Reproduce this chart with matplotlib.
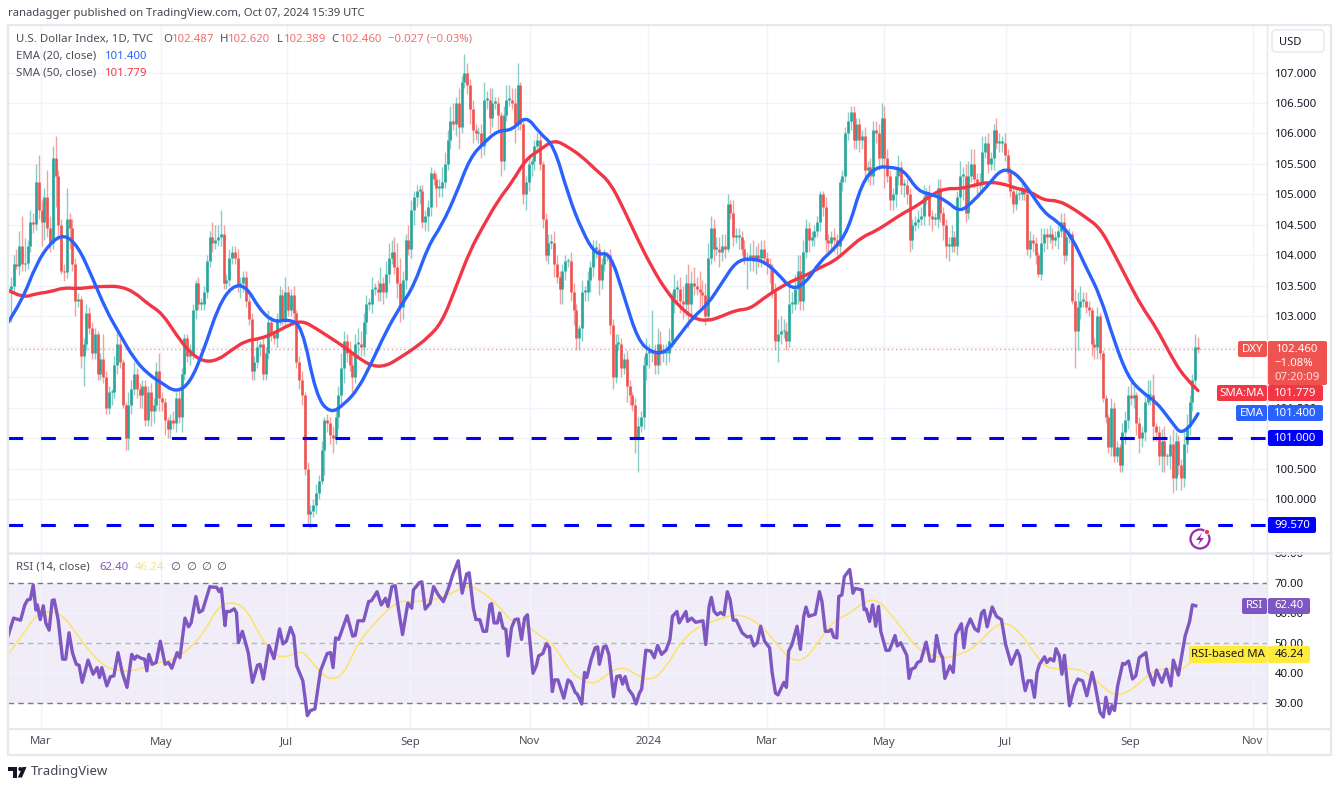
import numpy as np
import matplotlib
matplotlib.use("Agg")
import matplotlib.pyplot as plt
from matplotlib.patches import FancyBboxPatch, Polygon, Circle, Rectangle, PathPatch
from matplotlib.path import Path

plt.rcParams['font.family'] = ['Noto Sans', 'DejaVu Sans']

# daily closes, in order
closes = [
    103.45,103.50,103.85,103.82,104.15,103.85,103.88,104.15,104.55,104.52,105.20,104.75,
    104.55,104.95,104.45,104.20,105.60,105.30,104.50,103.75,103.72,104.60,104.45,103.85,103.25,103.28,102.35,
    102.55,103.05,102.80,102.40,102.70,102.05,102.30,102.00,101.50,101.75,101.75,102.20,102.55,102.25,101.55,
    101.00,101.55,101.80,102.05,101.80,101.70,101.85,101.30,101.75,101.45,101.55,102.10,101.65,
    101.60,101.30,101.15,101.30,101.25,101.65,101.35,102.05,102.65,102.35,102.40,103.10,103.55,103.20,103.20,
    103.40,103.90,104.30,104.20,104.25,104.30,104.35,103.55,103.60,103.95,104.05,103.95,103.50,103.55,103.65,
    103.25,102.95,102.10,102.25,102.50,102.55,102.05,102.40,102.90,102.70,102.65,102.95,103.35,102.95,103.40,
    103.10,103.35,103.05,102.25,101.95,101.70,100.50,99.75,
    99.80,99.90,100.10,100.30,100.80,
    101.30,101.25,101.05,101.00,101.35,101.70,102.15,102.60,102.40,102.20,
    102.00,102.55,102.55,102.50,102.90,103.20,103.20,103.45,103.45,103.40,
    103.55,103.40,103.70,103.95,104.05,103.80,103.55,103.15,103.60,104.25,
    104.10,104.75,104.95,105.05,105.05,104.55,104.65,104.80,105.35,105.25,
    105.10,105.10,105.20,105.50,105.90,106.20,106.15,106.50,106.10,106.85,
    107.00,106.80,106.40,106.05,106.00,106.00,105.80,106.55,106.55,106.25,
    106.50,106.50,106.30,105.55,106.30,106.55,106.55,106.50,106.15,106.80,
    106.15,105.00,105.20,105.50,105.55,105.80,105.90,105.50,104.60,104.00,
    104.20,104.20,103.85,103.65,103.45,103.75,103.90,103.90,103.40,103.10,
    102.65,102.80,103.40,103.40,103.60,103.80,104.10,104.10,103.60,103.85,104.00,
    104.00,102.85,102.00,102.55,102.55,102.15,102.30,101.85,101.70,101.55,
    101.00,101.20,101.35,102.20,102.40,102.40,102.40,102.20,102.55,102.40,
    102.40,102.40,102.60,103.30,103.45,103.45,103.25,103.20,103.55,103.20,
    103.55,103.50,103.45,103.40,103.35,103.00,103.95,104.45,104.10,104.10,
    104.05,104.15,104.10,104.85,104.70,104.30,104.30,104.30,104.10,103.95,
    103.95,104.00,103.90,104.00,103.95,104.10,103.95,103.85,103.80,103.40,
    102.60,102.70,102.75,102.75,102.60,103.20,103.20,103.45,103.75,103.25,
    104.05,104.45,104.25,104.30,104.40,104.55,105.00,104.80,104.25,104.20,
    104.30,104.25,104.15,105.20,105.30,106.00,106.20,106.35,105.90,106.15,
    105.90,105.95,105.40,105.45,105.30,106.05,106.00,105.60,106.25,105.60,
    105.30,104.90,105.00,105.30,105.45,105.15,105.15,105.00,
    104.25,104.50,104.55,104.60,104.65,104.95,105.00,104.65,104.60,104.60,
    105.10,104.70,104.50,104.15,104.15,104.30,104.15,104.95,105.30,105.30,
    104.70,105.30,105.50,105.25,105.15,105.20,105.70,105.85,105.50,105.60,
    106.05,105.85,105.85,105.85,105.65,105.35,105.05,104.85,105.00,105.00,
    105.10,105.00,104.10,104.25,104.20,104.00,103.70,104.20,104.35,104.30,
    104.35,104.25,104.30,104.40,104.55,104.00,104.30,104.35,103.25,102.75,
    103.15,103.25,103.25,103.15,103.10,102.55,102.50,103.00,102.40,101.65,
    101.35,100.85,101.50,100.70,100.85,100.55,101.10,101.30,101.70,101.65,
    101.70,101.25,101.00,101.10,101.60,101.70,101.70,101.20,101.10,100.70,
    100.95,100.70,100.70,100.90,100.35,100.95,100.55,100.35,100.90,101.20,
    101.60,101.95,102.50,102.46,
]
first_open = 103.40

# wick lengths above and below each body
wick_up = [
    .10,.15,.15,.25,.25,.50,.40,.10,.20,.15,.30,.45,
    .15,.15,.45,.20,.20,.35,.10,.10,.10,.50,.10,.15,.10,.10,.05,.10,.15,.10,.10,.10,.05,.10,.40,.10,.10,.05,.15,.20,.10,.05,.05,.20,.15,.20,.10,.10,.10,.10,.10,.15,.10,.15,.30,
    .10,.05,.05,.10,.15,.10,.15,.10,.05,.05,.15,.10,.05,.10,.10,.10,.10,.10,.25,.25,.20,.40,.15,.10,.15,.10,.10,.15,.10,.10,.10,.10,.10,.10,.15,.05,.10,.10,.20,.10,.05,.10,.15,.10,.25,
    .10,.10,.15,.05,.10,.15,.05,.10,
    .10,.10,.15,.10,.15,
    .05,.10,.10,.15,.15,.15,.25,.15,.10,.20,
    .20,.15,.25,.20,.15,.15,.10,.20,.10,.15,
    .25,.10,.20,.25,.20,.25,.40,.40,.15,.10,
    .25,.15,.10,.10,.10,.10,.10,.10,.10,.05,
    .10,.15,.25,.20,.15,.25,.30,.10,.25,.10,
    .30,.15,.10,.15,.10,.10,.15,.30,.15,.20,
    .25,.10,.10,.05,.15,.25,.25,.20,.25,.35,
    .05,.10,.10,.10,.05,.10,.10,.10,.05,.10,
    .15,.15,.20,.15,.10,.10,.10,.05,.15,.15,
    .10,.05,.20,.10,.15,.10,.15,.15,.10,.10,.10,
    .05,.10,.10,.15,.15,.10,.10,.15,.10,.05,
    .10,.15,.10,.15,.25,.15,.70,.15,.25,.20,
    .15,.15,.20,.10,.25,.15,.20,.25,.15,.30,
    .20,.25,.15,.30,.20,.20,.25,.20,.15,.20,
    .20,.20,.20,.15,.05,.20,.15,.15,.10,.15,
    .10,.20,.25,.15,.20,.15,.15,.10,.10,.05,
    .15,.25,.25,.20,.15,.30,.20,.25,.25,.25,
    .20,.15,.10,.10,.10,.10,.05,.05,.15,.10,
    .10,.15,.10,.05,.10,.10,.15,.10,.10,.10,
    .10,.10,.15,.10,.15,.15,.15,.15,.25,.20,
    .15,.10,.10,.15,.20,.10,.10,.10,
    .10,.10,.10,.15,.15,.20,.10,.15,.10,.10,
    .15,.15,.10,.10,.15,.20,.10,.10,.25,.15,
    .20,.25,.25,.25,.10,.15,.25,.10,.15,.10,
    .10,.20,.15,.10,.15,.10,.10,.05,.10,.10,
    .15,.10,.05,.15,.10,.10,.05,.25,.10,.10,
    .15,.10,.10,.10,.15,.15,.05,.10,.05,.20,
    .25,.25,.15,.15,.10,.05,.10,.15,.05,.05,
    .05,.05,.15,.10,.10,.05,.15,.15,.15,.25,
    .15,.05,.10,.10,.15,.25,.25,.35,.05,.10,
    .20,.25,.05,.15,.25,.15,.10,.10,.25,.20,
    .10,.10,.20,.16,
]
wick_dn = [
    .45,.55,.10,.05,.15,.10,.10,.10,.10,.15,.10,.15,
    .40,.30,.15,.15,.10,.50,.25,.05,.15,.10,.35,.10,.25,.10,.20,.50,.10,.10,.10,.10,.10,.10,.10,.10,.10,.20,.10,.15,.10,.05,.20,.20,.15,.10,.15,.20,.20,.10,.10,.25,.20,.10,.20,
    .15,.25,.15,.15,.10,.15,.10,.25,.10,.10,.15,.10,.15,.10,.10,.10,.10,.10,.15,.10,.10,.15,.10,.10,.10,.10,.10,.10,.20,.15,.10,.10,.15,.15,.10,.15,.10,.10,.10,.10,.10,.15,.10,.10,.10,
    .10,.10,.15,.10,.15,.15,.10,.18,
    .23,.10,.15,.10,.05,
    .40,.15,.15,.25,.10,.20,.15,.25,.15,.10,
    .25,.10,.20,.15,.15,.20,.10,.15,.10,.15,
    .15,.20,.10,.15,.10,.10,.25,.25,.20,.15,
    .10,.15,.25,.15,.20,.10,.15,.25,.15,.10,
    .30,.15,.15,.10,.10,.15,.10,.20,.35,.10,
    .10,.15,.25,.20,.10,.15,.20,.15,.15,.25,
    .15,.10,.25,.25,.15,.10,.10,.10,.30,.10,
    .10,.15,.25,.15,.20,.15,.10,.10,.15,.10,
    .15,.10,.20,.10,.25,.25,.15,.10,.15,.25,
    .20,.20,.20,.15,.15,.20,.15,.15,.25,.15,.10,
    .10,.15,.20,.10,.10,.15,.10,.25,.15,.10,
    .25,.55,.10,.20,.25,.25,.15,.15,.15,.20,
    .15,.20,.15,.10,.25,.20,.20,.25,.20,.40,
    .25,.15,.10,.25,.25,.15,.05,.10,.20,.10,
    .25,.15,.15,.05,.10,.15,.10,.20,.10,.10,
    .50,.20,.15,.20,.15,.15,.10,.15,.25,.10,
    .15,.35,.15,.10,.15,.10,.15,.10,.25,.15,
    .15,.10,.20,.10,.15,.10,.15,.15,.20,.15,
    .10,.20,.15,.15,.15,.10,.10,.15,.15,.15,
    .20,.15,.20,.20,.15,.15,.15,.20,.15,.50,
    .10,.15,.15,.20,.15,.15,.20,.15,
    .20,.15,.10,.10,.10,.15,.10,.15,.20,.10,
    .15,.15,.25,.20,.25,.10,.10,.15,.15,.40,
    .15,.10,.10,.15,.20,.15,.10,.10,.15,.10,
    .20,.10,.15,.15,.10,.15,.10,.15,.10,.10,
    .10,.10,.10,.15,.15,.15,.05,.10,.15,.20,
    .10,.15,.10,.20,.10,.15,.10,.10,.05,.60,
    .30,.20,.10,.10,.10,.20,.20,.20,.10,.05,
    .10,.10,.15,.10,.10,.10,.10,.20,.15,.10,
    .15,.20,.25,.15,.15,.05,.15,.25,.15,.15,
    .25,.25,.15,.20,.25,.20,.15,.20,.15,.15,
    .15,.15,.15,.07,
]

# moving averages, read every fifth bar
ema20 = [
    102.90,103.25,103.85,104.20,104.35,104.15,103.65,103.10,102.70,102.30,102.05,101.90,101.75,101.90,102.45,103.15,
    103.50,103.50,103.10,102.90,102.95,102.85,101.70,101.40,101.55,101.80,102.25,102.75,103.15,103.50,104.15,104.50,
    105.00,105.60,105.85,106.05,106.05,106.30,106.00,105.80,105.00,104.40,104.00,104.05,103.33,102.60,102.40,102.40,
    102.70,103.00,103.20,103.55,103.90,103.95,103.90,103.70,103.43,103.55,103.90,104.10,104.40,105.20,105.45,105.45,
    105.40,105.05,105.00,104.90,104.70,104.90,105.15,105.43,105.35,105.05,104.70,104.55,104.30,103.80,103.35,102.60,
    102.00,101.75,101.60,101.30,101.00,101.40,
]
sma50 = [
    103.43,103.30,103.37,103.40,103.47,103.45,103.48,103.49,103.49,103.40,103.20,103.05,102.70,102.40,102.25,102.28,
    102.45,102.60,102.63,102.72,102.85,102.93,102.80,102.65,102.50,102.32,102.18,102.18,102.32,102.47,102.65,102.90,
    103.48,104.08,104.50,104.90,105.20,105.58,105.73,105.90,105.78,105.62,105.40,105.20,104.75,104.25,103.80,103.42,
    103.15,102.96,102.92,103.00,103.10,103.12,103.30,103.45,103.58,103.67,103.80,103.90,104.10,104.30,104.40,104.55,
    104.70,104.82,105.00,105.10,105.09,105.15,105.20,105.18,105.10,105.05,104.90,104.90,104.78,104.62,104.45,104.03,
    103.58,103.15,102.82,102.38,102.00,101.78,
]

# RSI turning points: bar number and value
rsi_bars = [
    0,2,4.5,6,7,8,9,10,10.5,11.5,12.6,13.5,14.7,15.8,16.5,17.9,19.5,20.6,21.8,23,24.4,25.4,26.5,28.6,30.4,31.8,32.7,33.5,35.3,36.6,
    37.8,39.3,40.8,42.5,44.2,45.2,46,47.6,48.8,49.6,50.3,51.5,52.9,54.4,56.1,57.3,58.5,60.4,61.4,63.2,64.5,65.4,67.1,68.3,69.5,72.1,73.3,74.5,75.4,76.2,
    77.5,78,79.2,80.8,81.6,82.3,83.7,85.8,87.3,89.1,90,91.2,93.2,95,97,98.2,99.4,100.9,102.1,103.1,105.3,106.9,108,109.6,111.6,114,115.2,116.1,117,118.1,
    121.1,123.1,124,125,127,128.8,129.8,131.8,133.3,134.8,135.7,137.1,138.3,139.5,140.9,142.8,144.2,144.8,146.9,147.8,149,150.8,152,153.7,155.5,157.3,
    159,160.8,162.2,163.8,164.7,166.2,167.1,168.5,169.7,170.9,172.1,172.7,173.6,174.8,175.6,176.8,177.8,178.6,179.8,181,182.2,183.4,184.5,185.5,187.5,188.7,189.5,191,192.3,193.4,
    194.4,195.2,196.4,198.5,200,201.1,202.6,203.3,204.9,205.9,206.7,208.3,209.7,210.6,211.2,212.7,213.6,214.6,216.3,217.4,218.6,219.5,220.4,221.6,223.1,224.3,225.5,226.3,227.8,229.6,
    230.8,232,233.4,235,236.4,237.3,238.9,239.7,242.1,242.7,244.1,245.6,248.2,249.2,250.4,251.2,252.2,253.3,254.5,255.7,256.9,257.9,259,260.1,262.2,264,265.2,266.4,267.6,268.8,
    270.2,272,272.9,274.1,275,277.1,278,278.8,280,281.8,283,284.2,285,286,288.3,289.8,290.7,291.9,293.1,294,294.9,296,296.7,297.8,298.7,300.6,301.8,302.6,305,305.8,
    306.5,307.7,308.8,309.9,310.9,311.7,313.6,314.8,316.8,317.6,318.8,321,321.8,322.7,323.9,324.8,326,327.9,329.3,330.7,331.6,332.8,333.8,334.6,336.4,337.6,338.5,340.5,341.4,342.3,
    343.7,345.3,346.5,347.7,348.6,349.7,351.5,353,354.8,356.3,358.3,360.4,361.3,362.5,363.3,364.3,365.5,366.6,367.5,368.4,370.2,371,372.2,373.5,374.3,375.5,376.4,377.3,379.1,380.9,
    382.1,383.8,385.3,387.2,388.3,390,391.2,392.1,393.3,394.3,395.2,396.3,398.1,398.9,400.2,401.6,402.8,404,406.4,407.3,409.1,410.2,412.1,413.7,415.3,416.2,418,420.4,422,423,424.2,
]
rsi_vals = [
    52.3,58.3,57.6,62.7,64.4,64.6,69.3,61,62.7,57.8,62.4,56.7,54.3,64.2,64.4,57.8,44.6,44.6,53.4,46.8,42.9,42.6,36.9,44.3,39.6,41.8,38.5,41.8,35.7,38.8,
    39,46.8,40.2,35.2,46.2,44.6,45.7,44.9,44.6,40.7,46.2,42.9,43.5,50.6,42.9,43.5,41.6,46.8,45.1,58.3,55.4,56.7,65.5,60.2,60.9,68.8,68.6,68.6,67.1,68.2,
    55.8,60.5,60.5,61.4,60,50.1,53.9,46.8,36.9,42.6,42.9,38,49.2,44.8,54.7,49.7,50.6,55.2,52.3,42.4,37.4,25.8,27.5,28,40.7,46.5,46.8,41.8,51.7,51.2,
    59.1,52.3,52.5,57.4,57.4,63.8,64.1,67.1,62.7,64.9,62.2,68.8,69.1,61.1,52.8,63.3,61.6,67.7,70.1,70.4,61.3,63.3,68.8,66,63.8,68.2,
    73.2,77.4,66.6,73,73.4,61.6,57.8,57.8,53.9,53.9,62.7,63.1,56.7,56.7,60,55,54.5,45.7,55,57.8,58,51.2,58.3,59.4,39.9,42.4,45.7,46.5,49.8,48.4,
    33.8,37.7,37.7,31.6,37.7,36.9,33.5,33,29.7,40.2,38.5,44.6,48.4,48.7,42.9,48.7,49,46.2,32.1,38.8,39.1,36.3,38.8,34.6,32.7,29.7,33.3,34.6,47.6,47.3,
    45.1,49.2,46.2,47.6,51.2,58.9,60.5,56.7,60.5,57.2,58.3,56.9,57.4,49.5,62.2,65.2,60.5,59.4,60.2,59.4,67.1,64.4,57.6,57.6,53.4,52,52.3,49,50.1,55.6,
    50.6,48.4,40.2,33.3,32.7,36.9,35.2,47.3,49.5,55.6,47.9,58.9,62,58.9,59.6,67.1,63.8,53.9,53.9,54.5,52,51.7,65.5,66,72.1,74.5,66.6,68.2,67.7,61.1,
    61.3,57.2,62.7,55.6,62.2,53.9,47.5,47.6,52.5,49,50.1,45.9,38.2,41.3,41.8,43.5,44,50.3,44,44,52.5,46.8,45.1,38.2,42.4,40.2,52.8,56.4,48.4,55,
    58,54.7,53.9,60,60.9,55.4,62,58.9,57.8,49.5,42.9,47.5,45.7,38,34.1,37.4,37.4,31.9,40.2,42.9,45.4,43.5,44.8,44,48.1,45.7,39.6,45.9,29.1,35.7,
    38,37.4,32.4,40.2,35.7,26.9,25.3,31.9,26.4,29.1,27.5,35.7,43.2,42.9,44,38,39.1,45.1,46.8,40.7,36,41,36.9,41.3,35.7,44.3,39.3,52.3,57.2,62.7,62.4,
]
rsi_ma = [
    46.2,52.3,59.4,60.7,59,52.3,46.2,41.8,40.7,40.7,42.4,43.7,44.8,48.4,53.4,62.2,63.8,61.6,52.3,45.7,45.3,47.9,41.8,37.4,39.6,50.1,55.6,60.7,64.2,63.6,64.4,64.9,
    67.5,69.3,66.6,62.7,56.7,56.1,52.3,49.5,41.3,37.4,36.3,40.5,42.1,39,37.4,41.8,50,54.5,56.7,58.3,59.6,58.3,55,49,44,44.6,51.2,57.6,59.4,63.3,
    64.9,60,53.9,47.9,45.7,44.9,46.2,48.4,53.4,57.2,55,49,42.1,41.3,41.6,40.5,36.3,32.4,33.5,37.4,41.3,41.3,40.7,46.2,
]

price_ticks = [100.0,100.5,101.0,101.5,102.0,102.5,103.0,103.5,104.0,104.5,105.0,105.5,106.0,106.5,107.0]
hidden_price_labels = [101.0, 102.0, 102.5]  # sit under the price tags
rsi_ticks = [30,40,50,60,70,80]
month_labels = ['Mar','May','Jul','Sep','Nov','2024','Mar','May','Jul','Sep','Nov']
month_bars = [11.8,54.6,99.6,143.6,186.4,228.6,271,312.9,356.4,400.7,444.6]

support_levels = [101.0, 99.57]
last_price = 102.46

GREEN = '#26a69a'
RED = '#ef5350'
BLUE = '#2962ff'
MA_RED = '#f23645'
PURPLE = '#7e57c2'
YELLOW = '#ffeb3b'
LEVEL = '#0000ff'
GRID = '#f0f3fa'
BORDER = '#e6e8ef'
INK = '#4a4e59'
TXT = '#131722'

W, H = 1337, 788
fig = plt.figure(figsize=(W/100, H/100), dpi=100, facecolor='white')


def pane(x0, y0, x1, y1):
    return fig.add_axes([x0/W, 1 - y1/H, (x1-x0)/W, (y1-y0)/H])


def smooth_line(a, xs, ys, **kw):
    # quadratic segments with the read values as control points, so the line has no corners
    pts = np.column_stack([xs, ys])
    mids = (pts[1:-1] + pts[2:]) / 2
    verts = [pts[0]]
    for p, m in zip(pts[1:-1], mids):
        verts += [p, m]
    verts[-1] = pts[-1]
    codes = [Path.MOVETO] + [Path.CURVE3] * (len(verts) - 1)
    a.add_patch(PathPatch(Path(verts, codes), fill=False, **kw))


ax = pane(8, 25, 1267, 552)
ax_rsi = pane(8, 553, 1267, 728)
xmax = 1259 / 2.8

# candles
c = np.array(closes)
o = np.r_[first_open, c[:-1]]
x = np.linspace(0, 1190 / 2.8, len(c))
top = np.maximum(o, c)
bot = np.minimum(o, c)
hi = top + np.array(wick_up)
lo = bot - np.array(wick_dn)
colors = [GREEN if b >= a else RED for a, b in zip(o, c)]

for a in (ax, ax_rsi):
    a.set_xlim(0, xmax)
    a.set_xticks(month_bars)
    a.grid(True, color=GRID, lw=1)
    a.set_axisbelow(True)
    a.tick_params(length=0, labelbottom=False, labelleft=False)
    for s in a.spines.values():
        s.set_visible(False)

ax.set_ylim(99.13, 107.78)
ax.set_yticks(price_ticks)
ax.yaxis.tick_right()
ax.set_yticklabels(['' if p in hidden_price_labels else '%.3f' % p for p in price_ticks], fontsize=8.2, color=TXT)
ax.tick_params(axis='y', pad=5.4, labelright=True)

ax.axhline(last_price, color=RED, lw=1, ls=(0, (1, 2)), alpha=0.6, zorder=1)
ax.vlines(x, lo, hi, colors=colors, lw=1.0, alpha=0.55, zorder=2)
ax.vlines(x, bot, np.maximum(top, bot + 0.03), colors=colors, lw=1.9, zorder=3)

for lev in support_levels:
    ax.axhline(lev, color=LEVEL, lw=2.2, ls=(0, (4.8, 5.9)), zorder=4)

ma_x = np.linspace(0, 1190 / 2.8, len(ema20))
smooth_line(ax, ma_x, sma50, ec=MA_RED, lw=2.4, zorder=5, capstyle='round')
smooth_line(ax, ma_x, ema20, ec=BLUE, lw=2.4, zorder=5, capstyle='round')

# RSI pane
ax_rsi.set_ylim(21.67, 80)
ax_rsi.set_yticks(rsi_ticks)
ax_rsi.yaxis.tick_right()
ax_rsi.set_yticklabels(['%.2f' % r for r in rsi_ticks], fontsize=8.2, color=TXT)
ax_rsi.tick_params(axis='y', pad=5.4, labelright=True)
ax_rsi.axhspan(30, 70, color=PURPLE, alpha=0.1, lw=0, zorder=0)
ax_rsi.axhline(70, color='#787b86', lw=1, ls=(0, (4, 3)))
ax_rsi.axhline(50, color='#787b86', lw=1, ls=(0, (4, 3)), alpha=0.5)
ax_rsi.axhline(30, color='#787b86', lw=1, ls=(0, (4, 3)))
smooth_line(ax_rsi, np.linspace(0, 1190 / 2.8, len(rsi_ma)), rsi_ma, ec='#fbe36a', lw=1.1, zorder=3)
ax_rsi.plot(rsi_bars, rsi_vals, color=PURPLE, lw=2.4, zorder=4, solid_joinstyle='round')

# overlay in pixel coordinates for frame, tags and header
ov = fig.add_axes([0, 0, 1, 1], zorder=10)
ov.set_xlim(0, W)
ov.set_ylim(H, 0)
ov.axis('off')
ov.patch.set_alpha(0)

ov.add_patch(Rectangle((1268, 544), 62, 8, fc='white', ec='none', zorder=1))  # trims the 80.00 label
ov.add_patch(Rectangle((8, 24.5), 1323, 730, fill=False, ec=BORDER, lw=1.6))
ov.plot([1267, 1267], [25, 755], color=BORDER, lw=1)
ov.plot([8, 1331], [552.5, 552.5], color=BORDER, lw=1.8)
ov.plot([8, 1331], [728.5, 728.5], color=BORDER, lw=1.6)


def txt(px, py, s, color=INK, size=8.2, ha='left', **kw):
    return ov.text(px, py, s, color=color, fontsize=size, ha=ha, va='center', **kw)


def tag(x0, y0, x1, y1, color, s='', tc='white', ha='center'):
    ov.add_patch(FancyBboxPatch((x0+1, y0+1), x1-x0-2, y1-y0-2, boxstyle='round,pad=1,rounding_size=2',
                                fc=color, ec='none', zorder=5))
    if s:
        px = (x0 + x1) / 2 if ha == 'center' else x0 + 8
        ov.text(px, (y0 + y1) / 2, s, color=tc, fontsize=8.2, ha=ha, va='center', zorder=6)


# month labels
for b, s in zip(month_bars, month_labels):
    txt(8 + b * 2.8, 742, s, ha='center', fontweight='bold' if s == '2024' else 'normal')

# header and legends
txt(8, 13, 'ranadagger published on TradingView.com, Oct 07, 2024 15:39 UTC', color='#434651', size=8.1)
txt(16, 39, 'U.S. Dollar Index, 1D, TVC')
VAL_RED = '#f26d6d'
for px, s in [(163, 'O'), (220, 'H'), (277, 'L'), (331, 'C')]:
    txt(px, 39, s)
for px, s in [(172, '102.487'), (228, '102.620'), (284, '102.389'), (340, '102.460'), (388, '−0.027 (−0.03%)')]:
    txt(px, 39, s, color=VAL_RED)
txt(16, 56, 'EMA (20, close)')
txt(105, 56, '101.400', color=BLUE)
txt(16, 73, 'SMA (50, close)')
txt(105, 73, '101.779', color=MA_RED)
txt(16, 567, 'RSI (14, close)')
txt(99, 567, '62.40', color=PURPLE)
txt(135, 567, '46.24', color='#fbe36a')
for px in (175, 191, 206, 221):
    txt(px, 567, '∅', color=INK, ha='center')

# USD button
ov.add_patch(FancyBboxPatch((1273, 31), 50, 20, boxstyle='round,pad=1,rounding_size=4', fc='white', ec=BORDER, lw=1))
txt(1290, 42, 'USD', ha='center', color=TXT, size=8)

# price tags
tag(1238, 341, 1267, 357, RED, 'DXY')
tag(1268, 341, 1327, 385, RED)
ov.text(1297, 349, '102.460', color='white', fontsize=8.2, ha='center', va='center', zorder=6)
ov.text(1294, 363, '−1.08%', color='white', fontsize=8.2, ha='center', va='center', zorder=6)
ov.text(1297, 377, '07:20:09', color='#ffe0df', fontsize=8.2, ha='center', va='center', zorder=6)
tag(1217, 385, 1267, 401, MA_RED, 'SMA:MA')
tag(1268, 385, 1323, 401, MA_RED, '101.779')
tag(1236, 405, 1267, 421, BLUE, 'EMA')
tag(1268, 405, 1323, 421, BLUE, '101.400')
tag(1268, 430, 1323, 446, LEVEL, '101.000')
tag(1268, 517, 1316, 533, LEVEL, '99.570')
tag(1242, 598, 1267, 614, PURPLE, 'RSI')
tag(1268, 598, 1310, 614, PURPLE, '62.40')
tag(1189, 646, 1267, 663, YELLOW, 'RSI-based MA', tc=TXT)
tag(1268, 646, 1310, 663, YELLOW, '46.24', tc=TXT)

# flash icon
ov.add_patch(Circle((1200, 539), 9.5, fill=False, ec='#9c27b0', lw=1.6))
ov.add_patch(Polygon([(1202, 533), (1196, 540), (1200, 540), (1198, 545), (1204, 538), (1200, 538)],
                     fc='#9c27b0', ec='none'))
ov.add_patch(Circle((1207, 532), 2.6, fc='#f23645', ec='white', lw=0.6))

# TradingView logo
ov.add_patch(Polygon([(8, 767), (17, 767), (17, 777.5), (12.5, 777.5), (12.5, 771), (8, 771)], fc=TXT, ec='none'))
ov.add_patch(Circle((20.3, 769), 2.0, fc=TXT, ec='none'))
ov.add_patch(Polygon([(22.5, 767), (26.5, 767), (22, 777.5), (17.8, 777.5)], fc=TXT, ec='none'))
txt(31, 772, 'TradingView', color='#434651', size=9.5)

fig.savefig('out.png', dpi=100, facecolor='white')
